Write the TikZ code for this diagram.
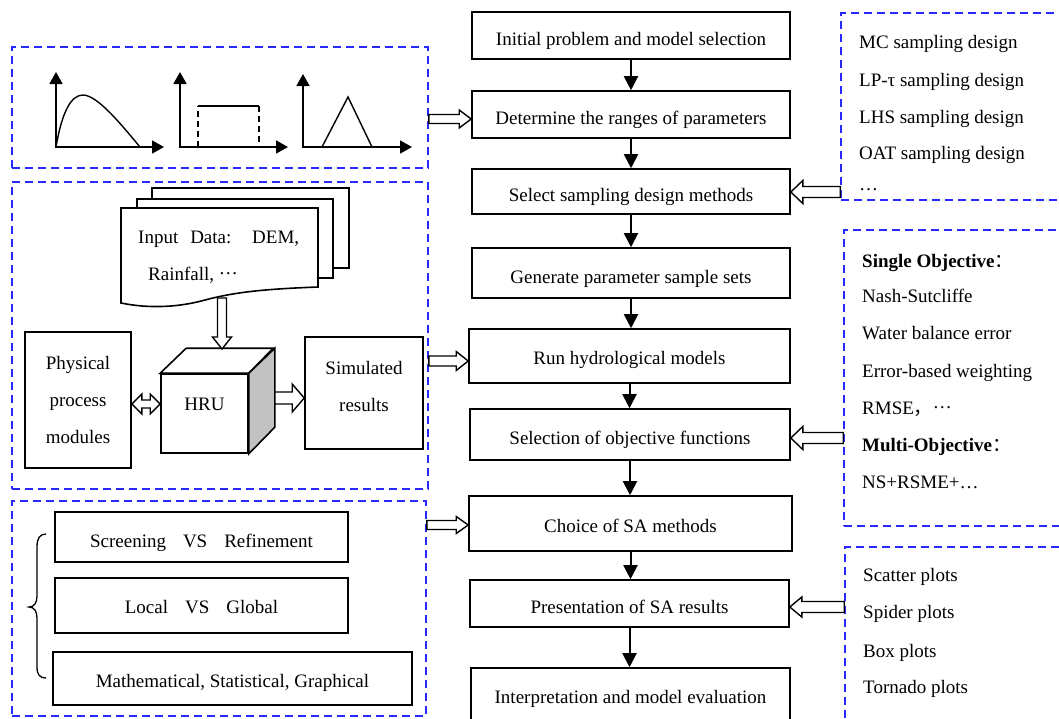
\documentclass[tikz,border=0pt]{standalone}
\usepackage{fontspec}
\setmainfont{Liberation Serif}
\newfontfamily\cjk{Noto Sans CJK SC}
\usetikzlibrary{arrows.meta,calc}
\definecolor{dashblue}{RGB}{40,40,255}
\definecolor{facegray}{gray}{0.76}
\newcommand\cdts{\raisebox{0.27em}{…}}
\newcommand\harrow[5]{%
  \draw[hollow] let \p1=(#1), \p2=(#2), \n1={atan2(\y2-\y1,\x2-\x1)}, \n2={veclen(\x2-\x1,\y2-\y1)} in
  {[shift={(\p1)}, rotate=\n1] (0,#3) -- (\n2-#5,#3) -- (\n2-#5,#4) -- (\n2,0) -- (\n2-#5,-#4) -- (\n2-#5,-#3) -- (0,-#3) -- cycle};}
\newcommand\hdarrow[5]{%
  \draw[hollow] let \p1=(#1), \p2=(#2), \n1={atan2(\y2-\y1,\x2-\x1)}, \n2={veclen(\x2-\x1,\y2-\y1)} in
  {[shift={(\p1)}, rotate=\n1] (0,0) -- (#5,#4) -- (#5,#3) -- (\n2-#5,#3) -- (\n2-#5,#4) -- (\n2,0) -- (\n2-#5,-#4) -- (\n2-#5,-#3) -- (#5,-#3) -- (#5,-#4) -- cycle};}
\begin{document}
\begin{tikzpicture}[x=1pt,y=-1pt,
  font=\fontsize{19}{37}\selectfont,
  box/.style={draw, line width=1.6pt, inner sep=0pt},
  mainbox/.style={box, text height=22pt, text depth=2pt},
  dbox/.style={draw=dashblue, line width=1.6pt, dash pattern=on 8pt off 5pt, inner sep=0pt},
  flow/.style={line width=2pt, -{Triangle[length=14pt,width=14pt]}},
  axis/.style={line width=1.8pt, {Triangle[length=12pt,width=13pt]}-{Triangle[length=12pt,width=13pt]}},
  hollow/.style={draw, fill=white, line width=1.4pt, line join=miter},
  lbl/.style={inner sep=0pt, anchor=base west},
  curve/.style={line width=1.4pt}]
\clip (0,0) rectangle (1059,718);
\fill[white] (0,0) rectangle (1059,718);

% ---------- main column ----------
\node[mainbox, minimum width=318, minimum height=47] (b1) at (631,35.5) {Initial problem and model selection};
\node[mainbox, minimum width=318, minimum height=47] (b2) at (631,114.5) {Determine the ranges of parameters};
\node[mainbox, minimum width=318, minimum height=45] (b3) at (631,191.5) {Select sampling design methods};
\node[mainbox, minimum width=318, minimum height=50] (b4) at (631,273) {Generate parameter sample sets};
\node[mainbox, minimum width=321, minimum height=54, text height=18pt] (b5) at (629.5,356) {Run hydrological models};
\node[mainbox, minimum width=320, minimum height=51] (b6) at (630,434.5) {Selection of objective functions};
\node[mainbox, minimum width=323, minimum height=55, text height=19pt] (b7) at (630.5,523.5) {Choice of SA methods};
\node[mainbox, minimum width=319, minimum height=47] (b8) at (629.5,603.5) {Presentation of SA results};
\node[mainbox, minimum width=319, minimum height=56, text height=16pt] (b9) at (630.5,696) {Interpretation and model evaluation};
\foreach \i/\j in {b1/b2,b2/b3,b3/b4,b4/b5,b5/b6,b6/b7,b7/b8,b8/b9}
  \draw[flow] (\i.south) -- (\i.south |- \j.north);

% ---------- dashed groups ----------
\node[dbox, minimum width=416, minimum height=121] (A) at (220,107.5) {};
\node[dbox, minimum width=416, minimum height=307] (B) at (220,335.5) {};
\node[dbox, minimum width=414, minimum height=215] (C) at (219,608.5) {};
\node[dbox, minimum width=234, minimum height=187] (D) at (958,106.5) {};
\node[dbox, minimum width=231, minimum height=296] (E) at (959.5,378) {};
\node[dbox, minimum width=230, minimum height=183] (F) at (960,638.5) {};

% ---------- distributions ----------
\draw[axis] (56,72) -- (56,147) -- (164,147);
\draw[curve] (56,147) .. controls (62,112) and (71,95) .. (83,95) .. controls (98,95) and (124,128) .. (140,147);
\draw[axis] (180,72) -- (180,147) -- (288,147);
\draw[curve, dash pattern=on 6pt off 4pt] (198,147) -- (198,106);
\draw[curve] (198,106) -- (259,106);
\draw[curve, dash pattern=on 6pt off 4pt] (259,106) -- (259,147);
\draw[axis] (303,74) -- (303,147) -- (412,147);
\draw[curve] (322,147) -- (348,97) -- (372,147);

% ---------- model block ----------
\draw[box, fill=white] (152,188) rectangle (349,268);
\draw[box, fill=white] (137,199) rectangle (333,278);
\draw[box, fill=white] (121,208) -- (318,208) -- (318,287) .. controls (265,289) and (235,292) .. (205,300) .. controls (180,307) and (150,309) .. (121,303) -- cycle;
\node[lbl] (in1) at (138,243) {\makebox[161pt][s]{Input Data: DEM,}};
\node[lbl] (in2) at (148,280) {Rainfall, \cdts};
\coordinate (docb) at (222,298);

\node[box, fill=white, minimum width=87, minimum height=79, text height=5pt, text depth=12pt] (hru) at (204.5,413.5) {HRU};
\draw[box, fill=white, line join=miter] (hru.north west) -- ++(26,-25) -- ++(87,0) -- (hru.north east) -- cycle;
\draw[box, fill=facegray, line join=miter] (hru.north east) -- ++(26,-25) -- ++(0,79) -- (hru.south east) -- cycle;
\coordinate (cubetop) at (222,349);
\coordinate (cuberight) at (275,398);

\node[box, minimum width=106, minimum height=136, align=center] (phys) at (78,400) {Physical\\process\\modules};
\node[box, minimum width=118, minimum height=112] (sim) at (364,393) {};
\node[align=center, inner sep=0pt] (simtext) at (364,386) {Simulated\\results};

\harrow{docb}{cubetop}{4.5}{9.5}{12}
\harrow{cuberight}{sim.west |- 0,398}{6}{14}{12}
\hdarrow{phys.east |- 0,404}{hru.west |- 0,404}{4}{10}{10}

% ---------- SA methods ----------
\draw[line width=1.3pt] (46,534) .. controls (40,534) and (37,538) .. (37,547) -- (37,596) .. controls (37,603) and (34,607) .. (29,607) .. controls (34,607) and (37,611) .. (37,618) -- (37,667) .. controls (37,675) and (40,678) .. (46,678);
\node[box, minimum width=293, minimum height=50, text height=22pt, text depth=2pt] (c1) at (201.5,537) {Screening\hspace{17pt}VS\hspace{17pt}Refinement};
\node[box, minimum width=293, minimum height=55, text height=17pt, text depth=2pt] (c2) at (201.5,605.5) {Local\hspace{17pt}VS\hspace{17pt}Global};
\node[box, minimum width=359, minimum height=53, text height=19pt, text depth=2pt] (c3) at (232.5,678.5) {Mathematical, Statistical, Graphical};

% ---------- right lists ----------
\node[lbl] (d1) at (859,48) {MC sampling design};
\node[lbl] (d2) at (859,86) {LP-τ sampling design};
\node[lbl] (d3) at (859,123) {LHS sampling design};
\node[lbl] (d4) at (859,159) {OAT sampling design};
\node[lbl] (d5) at (859,196) {\cdts};

\node[lbl] (e1) at (862,267) {\textbf{Single Objective}{\cjk ：}};
\node[lbl] (e2) at (862,302) {Nash-Sutcliffe};
\node[lbl] (e3) at (862,339) {Water balance error};
\node[lbl] (e4) at (862,377) {Error-based weighting};
\node[lbl] (e5) at (862,414) {RMSE{\cjk ，}\cdts};
\node[lbl] (e6) at (862,451) {\textbf{Multi-Objective}{\cjk ：}};
\node[lbl] (e7) at (862,488) {NS+RSME+…};

\node[lbl] (f1) at (863,581) {Scatter plots};
\node[lbl] (f2) at (863,618) {Spider plots};
\node[lbl] (f3) at (863,657) {Box plots};
\node[lbl] (f4) at (863,693) {Tornado plots};

% ---------- hollow connectors ----------
\harrow{A.east |- 0,119}{b2.west |- 0,119}{4.5}{9}{12}
\harrow{D.west |- 0,192}{b3.east |- 0,192}{5.5}{11.5}{12}
\harrow{B.east |- 0,361}{b5.west |- 0,361}{5}{9.5}{12}
\harrow{E.west |- 0,438}{b6.east |- 0,438}{5.5}{11.5}{12}
\harrow{C.east |- 0,525}{b7.west |- 0,525}{4.5}{8.5}{12}
\harrow{F.west |- 0,607}{b8.east |- 0,607}{5.5}{10}{12}
\end{tikzpicture}
\end{document}
